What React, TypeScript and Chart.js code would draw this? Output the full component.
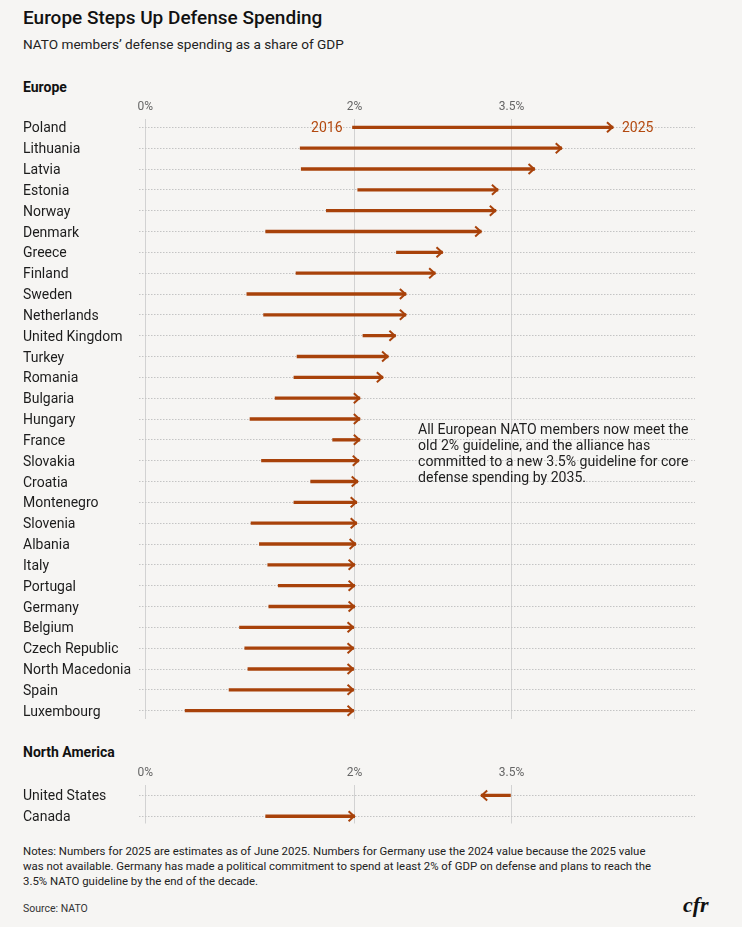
import React, { useEffect, useRef } from "react";
import { Chart, registerables } from "chart.js";

Chart.register(...registerables);

// ---- data: defense spending as % of GDP ----
const europeCountries = [
  "Poland", "Lithuania", "Latvia", "Estonia", "Norway", "Denmark", "Greece",
  "Finland", "Sweden", "Netherlands", "United Kingdom", "Turkey", "Romania",
  "Bulgaria", "Hungary", "France", "Slovakia", "Croatia", "Montenegro",
  "Slovenia", "Albania", "Italy", "Portugal", "Germany", "Belgium",
  "Czech Republic", "North Macedonia", "Spain", "Luxembourg",
];
const europe2016 = [
  1.98, 1.48, 1.49, 2.03, 1.73, 1.15, 2.40, 1.44, 0.97, 1.13, 2.08, 1.45, 1.42,
  1.24, 1.00, 1.79, 1.11, 1.58, 1.42, 1.01, 1.09, 1.17, 1.27, 1.18, 0.90,
  0.95, 0.98, 0.80, 0.38,
];
const europe2025 = [
  4.47, 3.98, 3.72, 3.37, 3.35, 3.21, 2.84, 2.77, 2.49, 2.49, 2.39, 2.32, 2.27,
  2.05, 2.05, 2.05, 2.04, 2.03, 2.02, 2.02, 2.01, 2.00, 2.00, 2.00, 1.99,
  1.99, 1.99, 1.99, 1.99,
];

const naCountries = ["United States", "Canada"];
const na2016 = [3.49, 1.15];
const na2025 = [3.21, 2.00];

const tickValues = [0, 2, 3.5];
const yearLabels = ["2016", "2025"];

const BG = "#f6f5f3";
const ARROW = "#a8420a";
const LABEL_ORANGE = "#b3490f";
const FONT = "Roboto, 'Noto Sans', sans-serif";

// arrowheads at the 2025 end of each bar, plus optional year captions on row 0
const arrowPlugin = {
  id: "arrowHeads",
  afterDatasetsDraw(chart: any, _args: any, opts: any) {
    const ctx = chart.ctx;
    const xs = chart.scales.x;
    const ys = chart.scales.y;
    const data = chart.data.datasets[0].data as any[];
    ctx.save();
    ctx.strokeStyle = ARROW;
    ctx.lineWidth = 2;
    ctx.lineJoin = "miter";
    ctx.lineCap = "butt";
    data.forEach((d) => {
      const [s, e] = d.x;
      const dir = e >= s ? 1 : -1;
      const tip = xs.getPixelForValue(e);
      const y = ys.getPixelForValue(d.y);
      ctx.beginPath();
      ctx.moveTo(tip - dir * 6, y - 5);
      ctx.lineTo(tip - dir * 0.5, y);
      ctx.lineTo(tip - dir * 6, y + 5);
      ctx.stroke();
    });
    if (opts && opts.years) {
      const d = data[0];
      const y = ys.getPixelForValue(d.y);
      ctx.fillStyle = LABEL_ORANGE;
      ctx.font = `14px ${FONT}`;
      ctx.textBaseline = "middle";
      ctx.textAlign = "right";
      ctx.fillText(opts.years[0], xs.getPixelForValue(d.x[0]) - 10, y + 1);
      ctx.textAlign = "left";
      ctx.fillText(opts.years[1], xs.getPixelForValue(d.x[1]) + 9, y + 1);
    }
    ctx.restore();
  },
};

type ArrowChartProps = {
  countries: string[];
  start: number[];
  end: number[];
  top: number;
  height: number;
  axisHeight: number;
  yMin: number;
  yMax: number;
  padBottom: number;
  years?: string[];
};

function ArrowChart(props: ArrowChartProps) {
  const ref = useRef<HTMLCanvasElement | null>(null);
  useEffect(() => {
    if (!ref.current) return;
    const { countries, start, end } = props;
    const chart = new Chart(ref.current, {
      type: "bar",
      data: {
        datasets: [
          {
            data: countries.map((_, i) => ({ x: [start[i], end[i]], y: i })) as any,
            backgroundColor: ARROW,
            borderWidth: 0,
            barThickness: 2.7,
          },
        ],
      },
      options: {
        indexAxis: "y",
        responsive: false,
        animation: false,
        events: [],
        layout: { padding: { left: 23, right: 47, top: 0, bottom: props.padBottom } },
        plugins: {
          legend: { display: false },
          tooltip: { enabled: false },
          arrowHeads: { years: props.years },
        } as any,
        scales: {
          x: {
            type: "linear",
            position: "top",
            bounds: "data",
            offset: false,
            min: -0.061,
            max: 5.254,
            afterBuildTicks: (scale: any) => {
              scale.ticks = tickValues.map((v) => ({ value: v }));
            },
            afterFit: (scale: any) => {
              scale.height = props.axisHeight;
            },
            ticks: {
              padding: 5,
              color: "#666",
              font: { family: FONT, size: 12 },
              callback: (v: any) => `${v}%`,
            },
            grid: { color: "#d2d2d2", lineWidth: 1, drawTicks: false, offset: false },
            border: { display: false },
          },
          y: {
            type: "linear",
            reverse: true,
            bounds: "data",
            offset: false,
            min: props.yMin,
            max: props.yMax,
            afterDataLimits: (scale: any) => {
              scale.min = props.yMin;
              scale.max = props.yMax;
            },
            afterBuildTicks: (scale: any) => {
              scale.ticks = countries.map((_, i) => ({ value: i }));
            },
            afterFit: (scale: any) => {
              scale.width = 116;
              scale.paddingTop = 0;
              scale.paddingBottom = 0;
            },
            ticks: {
              autoSkip: false,
              crossAlign: "far",
              labelOffset: 1.5,
              color: "#1c1c1c",
              font: { family: FONT, size: 14 },
              callback: (v: any) => countries[v as number] ?? "",
            },
            grid: { color: "#c4c4c4", lineWidth: 1, drawTicks: false, offset: false },
            border: { display: false, dash: [1.5, 1.5] },
          },
        },
      },
      plugins: [arrowPlugin],
    });
    return () => chart.destroy();
  }, []);
  return (
    <canvas
      ref={ref}
      width={742}
      height={props.height}
      style={{ position: "absolute", left: 0, top: props.top, width: 742, height: props.height }}
    />
  );
}

const textBase: React.CSSProperties = {
  position: "absolute",
  fontFamily: FONT,
  whiteSpace: "nowrap",
  margin: 0,
};

export default function App() {
  useEffect(() => {
    document.body.style.margin = "0";
    document.body.style.background = BG;
  }, []);
  return (
    <div style={{ position: "relative", width: 742, height: 927, background: BG, overflow: "hidden" }}>
      <div style={{ ...textBase, left: 23, top: 6, fontSize: 19, lineHeight: "24px", fontWeight: 500, color: "#111" }}>
        Europe Steps Up Defense Spending
      </div>
      <div style={{ ...textBase, left: 23, top: 35, fontSize: 13.6, lineHeight: "18px", color: "#222" }}>
        NATO members’ defense spending as a share of GDP
      </div>
      <div style={{ ...textBase, left: 23, top: 78, fontSize: 14, lineHeight: "18px", fontWeight: 700, color: "#111" }}>
        Europe
      </div>

      <ArrowChart
        countries={europeCountries}
        start={europe2016}
        end={europe2025}
        top={90}
        height={640}
        axisHeight={29}
        yMin={-0.4}
        yMax={28.4}
        padBottom={11}
        years={yearLabels}
      />

      <div style={{ ...textBase, left: 418, top: 421, fontSize: 14.1, lineHeight: "16px", color: "#1e1e1e" }}>
        All European NATO members now meet the
        <br />
        old 2% guideline, and the alliance has
        <br />
        committed to a new 3.5% guideline for core
        <br />
        defense spending by 2035.
      </div>

      <div style={{ ...textBase, left: 23, top: 743, fontSize: 14, lineHeight: "18px", fontWeight: 700, color: "#111" }}>
        North America
      </div>

      <ArrowChart
        countries={naCountries}
        start={na2016}
        end={na2025}
        top={760}
        height={74}
        axisHeight={25}
        yMin={-0.5}
        yMax={1.35}
        padBottom={10.5}
      />

      <div style={{ ...textBase, left: 23, top: 843.5, fontSize: 11.4, lineHeight: "15px", color: "#222" }}>
        Notes: Numbers for 2025 are estimates as of June 2025. Numbers for Germany use the 2024 value because the 2025 value
        <br />
        was not available. Germany has made a political commitment to spend at least 2% of GDP on defense and plans to reach the
        <br />
        3.5% NATO guideline by the end of the decade.
      </div>
      <div style={{ ...textBase, left: 23, top: 902, fontSize: 10.5, lineHeight: "14px", color: "#333" }}>
        Source: NATO
      </div>
      <div
        style={{
          ...textBase,
          left: 683,
          top: 892,
          fontSize: 22,
          lineHeight: "26px",
          fontFamily: "'Liberation Serif', 'DejaVu Serif', serif",
          fontStyle: "italic",
          fontWeight: 700,
          color: "#111",
        }}
      >
        cfr
      </div>
    </div>
  );
}
